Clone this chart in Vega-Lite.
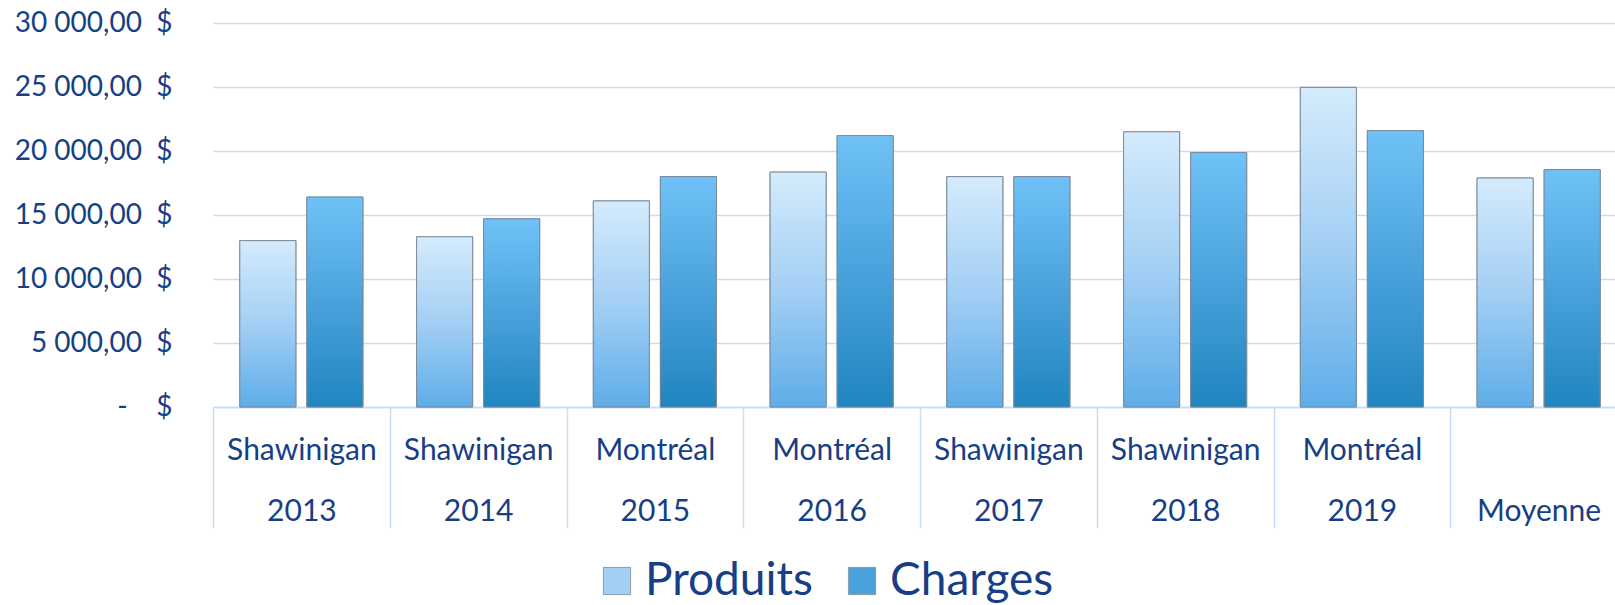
{
  "$schema": "https://vega.github.io/schema/vega-lite/v6.json",
  "autosize": "none",
  "width": 1402,
  "height": 384,
  "padding": {"left": 213, "top": 23, "right": 0, "bottom": 198},
  "background": "white",
  "data": {
    "values": [
      {"cat": "Shawinigan|2013", "series": "Produits", "value": 13000},
      {"cat": "Shawinigan|2013", "series": "Charges", "value": 16400},
      {"cat": "Shawinigan|2014", "series": "Produits", "value": 13300},
      {"cat": "Shawinigan|2014", "series": "Charges", "value": 14700},
      {"cat": "Montréal|2015", "series": "Produits", "value": 16100},
      {"cat": "Montréal|2015", "series": "Charges", "value": 18000},
      {"cat": "Montréal|2016", "series": "Produits", "value": 18350},
      {"cat": "Montréal|2016", "series": "Charges", "value": 21200},
      {"cat": "Shawinigan|2017", "series": "Produits", "value": 18000},
      {"cat": "Shawinigan|2017", "series": "Charges", "value": 18000},
      {"cat": "Shawinigan|2018", "series": "Produits", "value": 21500},
      {"cat": "Shawinigan|2018", "series": "Charges", "value": 19870},
      {"cat": "Montréal|2019", "series": "Produits", "value": 24970},
      {"cat": "Montréal|2019", "series": "Charges", "value": 21590},
      {"cat": " |Moyenne", "series": "Produits", "value": 17890},
      {"cat": " |Moyenne", "series": "Charges", "value": 18540}
    ]
  },
  "encoding": {
    "x": {
      "field": "cat",
      "type": "nominal",
      "sort": null,
      "scale": {"range": [0, 1414], "paddingInner": 0, "paddingOuter": 0},
      "axis": {
        "title": null,
        "labelAngle": 0,
        "labelExpr": "split(datum.label, '|')",
        "labelFont": "Lato",
        "labelFontSize": 30,
        "labelColor": "#173f86",
        "labelLineHeight": 61,
        "labelPadding": -93,
        "labelBaseline": "top",
        "tickBand": "extent",
        "tickSize": 121,
        "tickColor": "#c6dcf7",
        "tickWidth": 1.5,
        "domainColor": "#c6dcf7",
        "domainWidth": 1.5
      }
    },
    "xOffset": {
      "field": "series",
      "type": "nominal",
      "sort": ["Produits", "Charges"],
      "scale": {"paddingInner": 0.164, "paddingOuter": 0.4}
    },
    "y": {
      "field": "value",
      "type": "quantitative",
      "scale": {"domain": [0, 30000], "nice": false},
      "axis": {
        "title": null,
        "values": [0, 5000, 10000, 15000, 20000, 25000, 30000],
        "labelExpr": "datum.value == 0 ? '-\u00a0\u00a0\u00a0\u00a0$' : replace(replace(format(datum.value, ',.2f'), ',', '\u00a0'), '.', ',') + '\u00a0\u00a0$'",
        "labelFont": "Lato",
        "labelFontSize": 28,
        "labelColor": "#173f86",
        "labelPadding": 41,
        "ticks": false,
        "domain": false,
        "grid": true,
        "gridColor": "#c6dcf7",
        "gridWidth": 1.5
      }
    }
  },
  "layer": [
    {
      "mark": {"type": "bar", "stroke": "#7f8b99", "strokeWidth": 1},
      "encoding": {
        "color": {
          "field": "series",
          "type": "nominal",
          "sort": ["Produits", "Charges"],
          "scale": {"domain": ["Produits", "Charges"], "range": ["#a3cff4", "#4aa2dc"]},
          "legend": {
            "title": null,
            "orient": "none",
            "direction": "horizontal",
            "legendX": 381,
            "legendY": 535,
            "symbolType": "square",
            "symbolSize": 740,
            "symbolStrokeColor": "#8a9aa8",
            "symbolStrokeWidth": 1,
            "labelFont": "Lato",
            "labelFontSize": 46,
            "labelColor": "#173f86",
            "labelOffset": 5,
            "columnPadding": 26,
            "labelLimit": 400
          }
        }
      }
    },
    {
      "transform": [{"filter": "datum.series === 'Produits'"}],
      "mark": {
        "type": "bar",
        "stroke": "#7f8b99",
        "strokeWidth": 1,
        "color": {"gradient": "linear", "x1": 0, "y1": 0, "x2": 0, "y2": 1, "stops": [
          {"offset": 0, "color": "#d4ebfc"},
          {"offset": 0.5, "color": "#a3cff4"},
          {"offset": 1, "color": "#5eade9"}
        ]}
      }
    },
    {
      "transform": [{"filter": "datum.series === 'Charges'"}],
      "mark": {
        "type": "bar",
        "stroke": "#7f8b99",
        "strokeWidth": 1,
        "color": {"gradient": "linear", "x1": 0, "y1": 0, "x2": 0, "y2": 1, "stops": [
          {"offset": 0, "color": "#6fc2f7"},
          {"offset": 0.5, "color": "#4aa2dc"},
          {"offset": 1, "color": "#2085bf"}
        ]}
      }
    }
  ],
  "config": {"view": {"stroke": null}}
}
